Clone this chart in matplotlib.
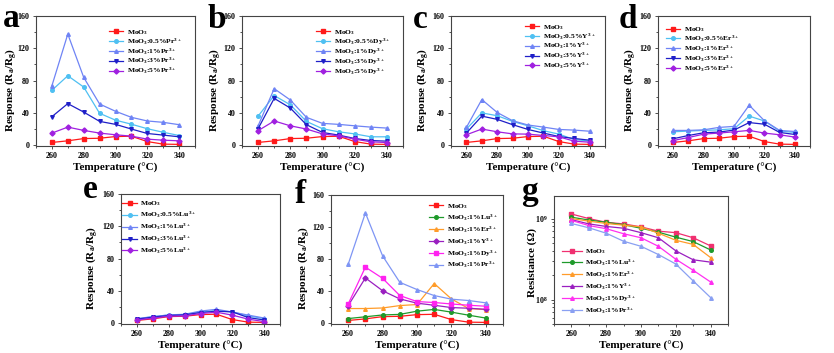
import numpy as np
import matplotlib
matplotlib.use("Agg")
import matplotlib.pyplot as plt
from matplotlib.ticker import MultipleLocator, LogLocator, NullFormatter

plt.rcParams['font.family'] = ['Liberation Serif', 'DejaVu Serif']
plt.rcParams['font.weight'] = 'bold'
plt.rcParams['mathtext.default'] = 'regular'
plt.rcParams['axes.labelweight'] = 'bold'

temps = [260, 270, 280, 290, 300, 310, 320, 330, 340]

moo3 = [3.4, 5.4, 8.2, 8.6, 10.7, 11.1, 4.5, 1.3, 1.0]

# panel a - Pr doping
pr_05 = [68, 86, 72, 39.5, 31, 26, 20.4, 16, 12]
pr_1 = [73.6, 137.6, 84, 51, 42, 34.5, 30, 28.3, 25.4]
pr_3 = [35.3, 51.5, 41, 29.5, 25.8, 20, 14.5, 12.5, 10.4]
pr_5 = [15, 22.4, 18.3, 15, 12.9, 11.2, 7.5, 6.2, 5.4]

# panel b - Dy doping
dy_05 = [36, 61.5, 50, 29.5, 20.4, 16.6, 14, 10.4, 10.4]
dy_1 = [24, 70, 56, 34.5, 27, 25.8, 24, 22.4, 21.2]
dy_3 = [20.4, 58, 46, 25.4, 15.8, 12.5, 8.3, 5.8, 5]
dy_5 = [18, 30, 24, 20, 14, 11.6, 7.5, 4.2, 3.3]

# panel c - Y doping
y_05 = [20, 40, 36.5, 29.5, 24, 18, 13.7, 7, 5]
y_1 = [22, 56.5, 40.5, 30.3, 25, 22.4, 19.5, 18.7, 17.3]
y_3 = [15, 36, 32, 25.4, 19.5, 15, 10.8, 8.3, 6.2]
y_5 = [12.9, 20, 16.6, 14, 13.7, 12, 10.4, 5, 3.7]

# panel d - Er doping
er_05 = [16.6, 17.5, 18.3, 19, 20.4, 36, 30, 17.5, 15.8]
er_1 = [18.3, 18.3, 19, 22, 23.3, 49.5, 30.3, 18.3, 17]
er_3 = [8, 12, 15.4, 16.2, 18.7, 28, 26, 15.8, 13.3]
er_5 = [5.8, 9.5, 13.7, 15, 16.6, 18.3, 15, 12.9, 10]

# panel e - Lu doping
lu_05 = [5, 8.2, 10, 10.7, 13.6, 15.7, 14, 9, 5.8]
lu_1 = [5.8, 8, 10.3, 11, 15, 17.2, 13.8, 10, 6.4]
lu_3 = [5, 7.4, 9.5, 10.3, 13.2, 14.8, 14, 7, 4]
lu_5 = [4, 6.2, 8.7, 9, 12, 13.6, 10, 5, 2]

# panel g - resistance (ohm)
r_moo3 = [1.14e9, 1.0e9, 0.90e9, 0.86e9, 0.79e9, 0.70e9, 0.67e9, 0.58e9, 0.46e9]
r_lu = [1.04e9, 0.96e9, 0.90e9, 0.84e9, 0.76e9, 0.68e9, 0.59e9, 0.52e9, 0.41e9]
r_er = [1.0e9, 0.93e9, 0.87e9, 0.83e9, 0.79e9, 0.66e9, 0.54e9, 0.48e9, 0.33e9]
r_y = [0.97e9, 0.86e9, 0.80e9, 0.76e9, 0.67e9, 0.58e9, 0.40e9, 0.31e9, 0.29e9]
r_dy = [0.95e9, 0.82e9, 0.75e9, 0.65e9, 0.58e9, 0.455e9, 0.315e9, 0.23e9, 0.165e9]
r_pr = [0.87e9, 0.77e9, 0.66e9, 0.525e9, 0.455e9, 0.36e9, 0.275e9, 0.17e9, 0.106e9]

c_red = '#FF1A1A'
c_sky = '#4FC0F2'
c_peri = '#6F84F5'
c_navy = '#1F1FC8'
c_purp = '#A020E0'
five_cols = [c_red, c_sky, c_peri, c_navy, c_purp]
five_mk = ['s', 'o', '^', 'v', 'D']

W, H = 834, 353
fig = plt.figure(figsize=(W / 100, H / 100), dpi=100)


def box(l, t, r, b):
    return [l / W, 1 - b / H, (r - l) / W, (b - t) / H]


def letter(ch, xc, base):
    fig.text(xc / W, 1 - base / H, ch, fontsize=24, fontweight='bold',
             ha='center', va='baseline')


def style(ax, ylab, lab_x, lab_y=0.43):
    ax.set_xlim(250, 350)
    ax.xaxis.set_major_locator(MultipleLocator(20))
    ax.xaxis.set_minor_locator(MultipleLocator(10))
    ax.tick_params(which='both', direction='out', top=False, right=False,
                   labelsize=5.8, width=0.6, color='#333333', pad=2)
    ax.tick_params(which='major', length=2.5)
    ax.tick_params(which='minor', length=1.5)
    for s in ax.spines.values():
        s.set_color('#444444')
        s.set_linewidth(0.8)
    ax.set_xlabel('Temperature (°C)', fontsize=8, labelpad=2)
    ax.set_ylabel(ylab, fontsize=8)
    ax.yaxis.set_label_coords(lab_x, lab_y)


resp_lab = 'Response (R$_a$/R$_g$)'


def resp_panel(rect, series, labels, colors, markers, leg_anchor, lab_x, spacing=-0.05):
    ax = fig.add_axes(box(*rect))
    for vals, lab, col, mk in zip(series, labels, colors, markers):
        ax.plot(temps, vals, color=col, marker=mk, markersize=2.6, linewidth=0.9, label=lab)
    ax.set_ylim(-1, 160)
    ax.yaxis.set_major_locator(MultipleLocator(40))
    ax.yaxis.set_minor_locator(MultipleLocator(20))
    style(ax, resp_lab, lab_x)
    ax.legend(loc='upper left', bbox_to_anchor=leg_anchor, frameon=False, fontsize=5.4,
              handlelength=1.9, handletextpad=0.5, labelspacing=spacing, borderaxespad=0)
    return ax


def dop_labels(el):
    return ['MoO$_3$', 'MoO$_3$:0.5%' + el + '$^{3+}$', 'MoO$_3$:1%' + el + '$^{3+}$',
            'MoO$_3$:3%' + el + '$^{3+}$', 'MoO$_3$:5%' + el + '$^{3+}$']


resp_panel((36, 16, 195, 146), [moo3, pr_05, pr_1, pr_3, pr_5], dop_labels('Pr'),
           five_cols, five_mk, (0.44, 0.93), -0.11)
resp_panel((242, 16, 403, 146), [moo3, dy_05, dy_1, dy_3, dy_5], dop_labels('Dy'),
           five_cols, five_mk, (0.44, 0.93), -0.12)
resp_panel((451, 16, 605, 146), [moo3, y_05, y_1, y_3, y_5], dop_labels('Y'),
           five_cols, five_mk, (0.46, 0.97), -0.13)
resp_panel((658, 16, 810, 146), [moo3, er_05, er_1, er_3, er_5], dop_labels('Er'),
           five_cols, five_mk, (0.03, 0.95), -0.13)
resp_panel((121, 194, 280, 324), [moo3, lu_05, lu_1, lu_3, lu_5], dop_labels('Lu'),
           five_cols, five_mk, (-0.01, 0.98), -0.13, spacing=0.23)

f_labels = ['MoO$_3$', 'MoO$_3$:1%Lu$^{3+}$', 'MoO$_3$:1%Er$^{3+}$', 'MoO$_3$:1%Y$^{3+}$',
            'MoO$_3$:1%Dy$^{3+}$', 'MoO$_3$:1%Pr$^{3+}$']
f_cols = [c_red, '#1E9A2A', '#FF9C2A', '#9A1FC0', '#FF22F0', '#7E95F4']
resp_panel((331, 195, 503, 324), [moo3, lu_1, er_1, y_1, dy_1, pr_1], f_labels,
           f_cols, ['s', 'o', '^', 'D', 's', '^'], (0.55, 0.97), -0.11, spacing=0.23)

# panel g
axg = fig.add_axes(box(554, 196, 728, 324))
g_cols = ['#F03070', '#1E9A2A', '#FF9C2A', '#9A1FC0', '#FF30F0', '#8AA0F2']
for vals, lab, col, mk in zip([r_moo3, r_lu, r_er, r_y, r_dy, r_pr], f_labels, g_cols,
                              ['s', 'o', '^', '^', '^', '^']):
    axg.plot(temps, vals, color=col, marker=mk, markersize=2.6, linewidth=0.9, label=lab)
axg.set_yscale('log')
axg.set_ylim(5e7, 1.9e9)
axg.yaxis.set_major_locator(LogLocator(base=10))
axg.yaxis.set_minor_locator(LogLocator(base=10, subs=np.arange(2, 10)))
axg.yaxis.set_minor_formatter(NullFormatter())
style(axg, 'Resistance (Ω)', -0.095, 0.48)
axg.legend(loc='lower left', bbox_to_anchor=(0.03, 0.04), frameon=False, fontsize=5.4,
           handlelength=2.6, handletextpad=0.5, labelspacing=0.23, borderaxespad=0)

letter('a', 11, 27)
letter('b', 217, 28)
letter('c', 420, 28)
letter('d', 628, 28)
letter('e', 90, 198)
letter('f', 300, 203)
letter('g', 529, 200)

fig.savefig('out.png', dpi=100)
